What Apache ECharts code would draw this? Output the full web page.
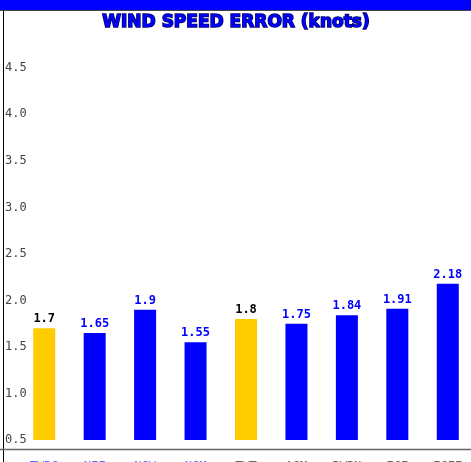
<!DOCTYPE html>
<html>
<head>
<meta charset="utf-8">
<script src="https://cdn.jsdelivr.net/npm/echarts@6/dist/echarts.min.js"></script>
<style>
  html, body { margin: 0; padding: 0; background: #fff; }
  #main { width: 471px; height: 462px; }
</style>
</head>
<body>
<div id="main"></div>
<script>
// chart data
const categories = ["TWRS", "NFF", "NGW", "NGM", "TWT", "AGM", "BWRN", "ECE", "ECEE"];
const errors = [1.7, 1.65, 1.9, 1.55, 1.8, 1.75, 1.84, 1.91, 2.18];
const highlighted = [0, 4];
const yTicks = [0.5, 1.0, 1.5, 2.0, 2.5, 3.0, 3.5, 4.0, 4.5];

const chart = echarts.init(document.getElementById("main"));

const barData = errors.map((v, i) => {
  const hl = highlighted.includes(i);
  return {
    value: v,
    itemStyle: { color: hl ? "#ffcc00" : "#0000ff" },
    label: { color: hl ? "#000000" : "#0000ff" }
  };
});

chart.setOption({
  animation: false,
  backgroundColor: "#ffffff",
  title: {
    text: "WIND SPEED ERROR (knots)",
    left: 231,
    textAlign: "center",
    top: 9,
    textStyle: {
      fontFamily: "DejaVu Sans",
      fontWeight: "bold",
      fontSize: 17,
      color: "#0000ff",
      textBorderColor: "#000060",
      textBorderWidth: 1.5
    }
  },
  // frame: blue top band, left rule and bottom rule
  graphic: [
    { type: "rect", shape: { x: 0, y: 0, width: 471, height: 10 }, style: { fill: "#0000ff" }, silent: true },
    { type: "line", shape: { x1: 0, y1: 10.5, x2: 471, y2: 10.5 }, style: { stroke: "#444", lineWidth: 1 }, silent: true },
    { type: "line", shape: { x1: 3.5, y1: 11, x2: 3.5, y2: 462 }, style: { stroke: "#000", lineWidth: 1 }, silent: true },
    { type: "line", shape: { x1: 0, y1: 449.5, x2: 471, y2: 449.5 }, style: { stroke: "#666", lineWidth: 1.5 }, silent: true }
  ],
  grid: { left: 19, right: -2, top: 12, bottom: 22, outerBoundsMode: "none" },
  xAxis: {
    type: "category",
    data: categories,
    offset: 9,
    axisLine: { show: false },
    axisTick: { show: false },
    axisLabel: {
      margin: 12,
      fontFamily: "DejaVu Sans Mono",
      fontSize: 12,
      color: (val, idx) => (idx < 4 ? "#6666ff" : "#666666")
    }
  },
  yAxis: {
    type: "value",
    min: 0.5,
    max: 5.1,
    interval: 0.5,
    offset: 16,
    splitLine: { show: false },
    axisTick: { show: false },
    axisLine: { show: false },
    axisLabel: {
      inside: true,
      margin: 2,
      align: "left",
      padding: [0, 0, 8, 0],
      fontFamily: "DejaVu Sans Mono",
      fontSize: 12,
      color: "#444",
      formatter: v => (yTicks.some(t => Math.abs(t - v) < 1e-6) ? v.toFixed(1) : "")
    }
  },
  series: [{
    type: "bar",
    data: barData,
    barWidth: 22,
    label: {
      show: true,
      position: "top",
      distance: 3,
      fontFamily: "DejaVu Sans Mono",
      fontWeight: "bold",
      fontSize: 12
    }
  }]
});
</script>
</body>
</html>
